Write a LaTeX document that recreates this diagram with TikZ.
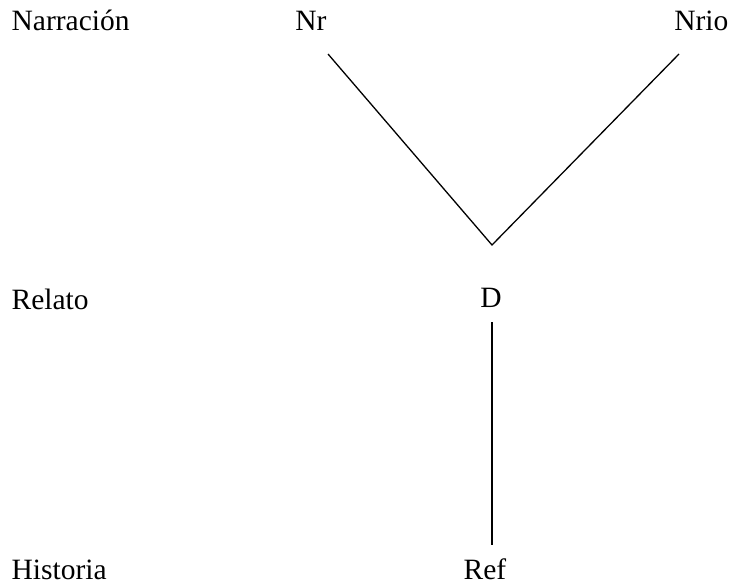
\documentclass[tikz,border=0pt]{standalone}
\usepackage{fontspec}
\setmainfont{Liberation Serif}
\usepackage{tikz}
\usetikzlibrary{positioning}
\tikzset{lbl/.style={inner sep=0pt, font=\fontsize{29.5}{34}\selectfont}}

\begin{document}
\begin{tikzpicture}[x=1pt,y=-1pt,line width=1.3pt]
\useasboundingbox (0,0) rectangle (733,584);
% niveles
\node[lbl,anchor=base west] (narr) at (11,30) {Narración};
\node[lbl,anchor=base west] (rel) at (11,309) {Relato};
\node[lbl,anchor=base west] (hist) at (11,579) {Historia};
% instancias
\node[lbl,anchor=base] (nr) at (311,30) {Nr};
\node[lbl,anchor=base east] (nrio) at (729,30) {Nrio};
\node[lbl,anchor=base] (d) at (491,307) {D};
\node[lbl,anchor=base] (ref) at (485,579) {Ref};
\coordinate (nrEnd) at (328,54);
\coordinate (nrioEnd) at (679,54);
\coordinate (apex) at (492,245);
\coordinate (dEnd) at (492,322);
\coordinate (refEnd) at (492,545);
\draw (nrEnd) -- (apex) -- (nrioEnd);
\draw (dEnd) -- (refEnd);
\end{tikzpicture}
\end{document}
